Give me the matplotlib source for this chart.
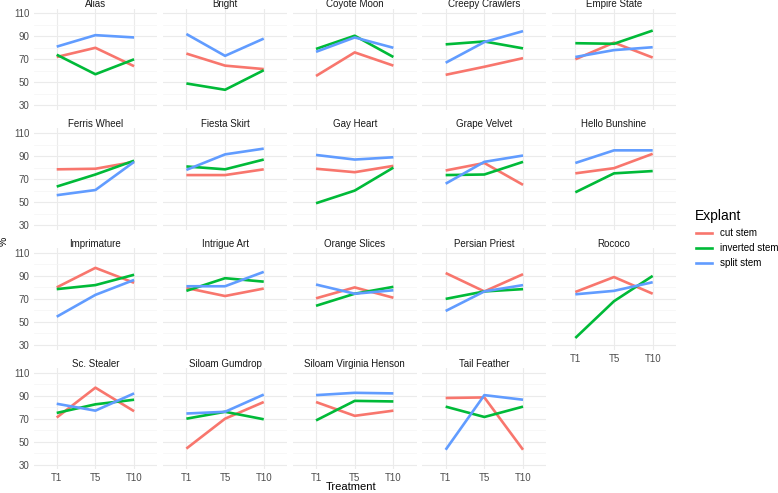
import numpy as np
import matplotlib
matplotlib.use("Agg")
import matplotlib.pyplot as plt
from matplotlib.lines import Line2D

plt.rcParams["font.family"] = ["Liberation Sans", "DejaVu Sans"]

treatments = ["T1", "T5", "T10"]
explants = ["cut stem", "inverted stem", "split stem"]
colors = ["#F8766D", "#00BA38", "#619CFF"]

cultivars = [
    "Alias", "Bright", "Coyote Moon", "Creepy Crawlers", "Empire State",
    "Ferris Wheel", "Fiesta Skirt", "Gay Heart", "Grape Velvet", "Hello Bunshine",
    "Imprimature", "Intrigue Art", "Orange Slices", "Persian Priest", "Rococo",
    "Sc. Stealer", "Siloam Gumdrop", "Siloam Virginia Henson", "Tail Feather",
]

# % values at T1, T5, T10 for each cultivar
cut_stem = [
    [72, 80, 64], [75, 64.5, 61.5], [55.5, 76, 64.5], [56.5, 63.5, 71], [70, 84.5, 71.5],
    [78.5, 79, 85], [73.5, 73.5, 78.5], [79, 76, 81.5], [77.5, 84, 65], [75, 79.5, 92],
    [80, 97, 84], [79.5, 72.5, 79], [70.5, 80, 71], [92.5, 76.5, 91.5], [76, 89, 74.5],
    [71, 97, 76.5], [44, 70, 84.5], [84.5, 72.5, 77], [88, 88.5, 43],
]
inverted_stem = [
    [74, 57, 70], [49, 43.5, 60.5], [79, 90.5, 72], [83, 85.5, 79.5], [84, 83.5, 95],
    [63.5, 74, 86], [81, 78.5, 87], [49, 60, 80], [73.5, 74, 85], [58.5, 75, 77],
    [78.5, 82, 91], [77, 88, 85], [64, 74.5, 80.5], [70, 76.5, 78.5], [36, 68, 90],
    [75, 82.5, 86.5], [70, 76, 69.5], [68.5, 85.5, 85], [80.5, 71.5, 80.5],
]
split_stem = [
    [81, 91, 89], [92, 73, 88], [76.5, 89, 80], [67, 85, 94.5], [72, 78, 80.5],
    [56, 60.5, 85], [78, 91.5, 96.5], [91, 87, 89], [66, 85, 90.5], [84, 95, 95],
    [54.5, 73.5, 86.5], [81, 81, 93.5], [82.5, 74.5, 77.5], [59.5, 76.5, 82], [74, 77, 84.5],
    [83, 77, 92], [74.5, 76, 91], [90.5, 92.5, 92], [43, 90.5, 86.5],
]
series = [cut_stem, inverted_stem, split_stem]

W, H = 778, 493
fig = plt.figure(figsize=(W / 100, H / 100), dpi=100)

ncol, nrow = 5, 4
left0, col_pitch, pw = 33.5, 129.65, 123.8
top0, row_pitch, ph = 8.7, 119.8, 101.2

grid_major = "#EBEBEB"
grid_minor = "#F4F4F4"
tick_col = "#4D4D4D"

x = np.arange(len(treatments))
n = len(cultivars)
for i, name in enumerate(cultivars):
    r, c = divmod(i, ncol)
    lx = left0 + c * col_pitch
    ty = top0 + r * row_pitch
    ax = fig.add_axes([lx / W, 1 - (ty + ph) / H, pw / W, ph / H])
    ax.set_xlim(-0.6, 2.6)
    ax.set_ylim(26, 114)
    ax.set_yticks([30, 50, 70, 90, 110])
    ax.set_yticks([40, 60, 80, 100], minor=True)
    ax.set_xticks(x)
    ax.grid(True, which="major", color=grid_major, lw=0.8)
    ax.grid(True, which="minor", axis="y", color=grid_minor, lw=0.5)
    ax.set_axisbelow(True)
    for s in ax.spines.values():
        s.set_visible(False)
    ax.tick_params(length=0, labelsize=7, colors=tick_col, pad=3)
    ax.tick_params(which="minor", length=0)
    for vals, col in zip(series, colors):
        ax.plot(x, vals[i], color=col, lw=1.9, solid_capstyle="butt")
    # x labels only on the bottom panel of each column
    if i + ncol < n:
        ax.set_xticklabels([])
    else:
        ax.set_xticklabels(treatments)
    if c != 0:
        ax.set_yticklabels([])
    fig.text((lx + pw / 2) / W, 1 - (ty - 4.5) / H, name, ha="center", va="center",
             fontsize=7, color="#1A1A1A")

fig.text(351 / W, 1 - 487 / H, "Treatment", ha="center", va="center", fontsize=8, color="black")
fig.text(4 / W, 1 - 241 / H, "%", ha="center", va="center", rotation=90, fontsize=7.5, color="black")

# legend
fig.text(695 / W, 1 - 216 / H, "Explant", ha="left", va="center", fontsize=10, color="black")
for k, (lab, col) in enumerate(zip(explants, colors)):
    yy = 1 - (233.3 + k * 14.7) / H
    fig.add_artist(Line2D([696 / W, 711.5 / W], [yy, yy], color=col, lw=1.9))
    fig.text(720 / W, yy, lab, ha="left", va="center", fontsize=7, color="black")

fig.savefig("out.png", dpi=100, facecolor="white")
